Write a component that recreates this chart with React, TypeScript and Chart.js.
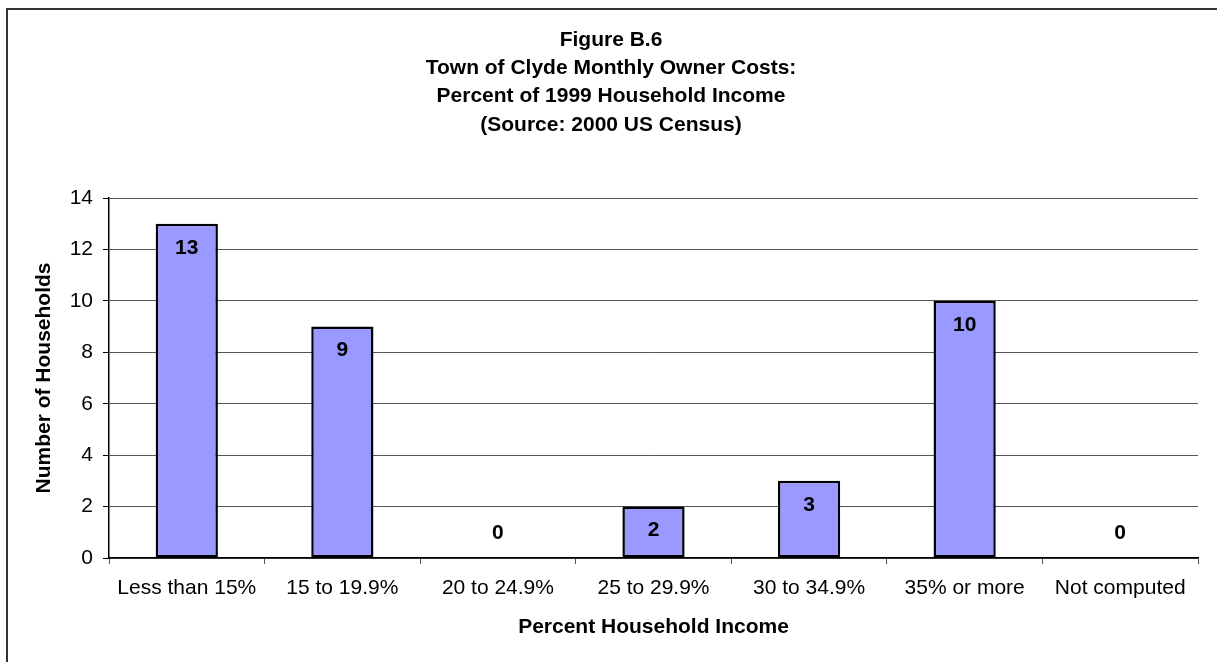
import React, { useEffect, useRef } from "react";
import { Chart, registerables } from "chart.js";

Chart.register(...registerables);

const titleLines = [
  "Figure B.6",
  "Town of Clyde Monthly Owner Costs:",
  "Percent of 1999 Household Income",
  "(Source: 2000 US Census)",
];
const categories = [
  "Less than 15%",
  "15 to 19.9%",
  "20 to 24.9%",
  "25 to 29.9%",
  "30 to 34.9%",
  "35% or more",
  "Not computed",
];
const households = [13, 9, 0, 2, 3, 10, 0];
const yTitle = "Number of Households";
const xTitle = "Percent Household Income";
const yMin = 0;
const yMax = 14;
const yStep = 2;

const FONT = "'Liberation Sans', Arial, sans-serif";

const titlePlugin = {
  id: "multiTitle",
  afterDraw(chart: any) {
    const { ctx } = chart;
    const cx = chart.width / 2 + 2.5;
    ctx.save();
    ctx.font = `bold 21px ${FONT}`;
    ctx.fillStyle = "#000";
    ctx.textAlign = "center";
    ctx.textBaseline = "middle";
    const startY = 40;
    const spacing = 28.3;
    titleLines.forEach((line, i) => {
      ctx.fillText(line, cx, startY + i * spacing);
    });
    ctx.restore();
  },
};

const barLabelPlugin = {
  id: "barLabels",
  afterDatasetsDraw(chart: any) {
    const { ctx } = chart;
    const meta = chart.getDatasetMeta(0);
    const data = chart.data.datasets[0].data as number[];
    ctx.save();
    ctx.font = `bold 21px ${FONT}`;
    ctx.fillStyle = "#000";
    ctx.textAlign = "center";
    ctx.textBaseline = "middle";
    meta.data.forEach((el: any, i: number) => {
      const v = data[i];
      const y = v > 0 ? el.y + 24 : el.y - 25;
      ctx.fillText(String(v), el.x, y);
    });
    ctx.restore();
  },
};

export default function App() {
  const ref = useRef<HTMLCanvasElement>(null);
  useEffect(() => {
    if (!ref.current) return;
    const chart = new Chart(ref.current, {
      type: "bar",
      data: {
        labels: categories,
        datasets: [
          {
            data: households,
            backgroundColor: "#9999FF",
            borderColor: "#000000",
            borderWidth: 2.5,
            borderSkipped: false,
            categoryPercentage: 1,
            barPercentage: 0.4,
          },
        ],
      },
      options: {
        animation: false,
        responsive: false,
        devicePixelRatio: 1,
        layout: { padding: { left: 0, right: 19, top: 198, bottom: 0 } },
        plugins: {
          legend: { display: false },
          title: { display: false },
          tooltip: { enabled: false },
        },
        scales: {
          x: {
            offset: true,
            grid: {
              offset: true,
              drawOnChartArea: false,
              drawTicks: true,
              tickLength: 6,
              tickColor: "#555",
              lineWidth: 1,
            },
            border: { display: true, color: "#000", width: 1.5 },
            ticks: {
              color: "#000",
              font: { family: FONT, size: 21 },
              padding: 12,
              maxRotation: 0,
              autoSkip: false,
            },
            title: {
              display: true,
              text: xTitle,
              color: "#000",
              font: { family: FONT, size: 21, weight: "bold" },
              padding: { top: 0, bottom: 22 },
            },
            afterFit(scale: any) {
              scale.height = 104;
            },
          },
          y: {
            min: yMin,
            max: yMax,
            grid: {
              color: "#555",
              lineWidth: 1,
              drawTicks: true,
              tickLength: 6,
              tickColor: "#000",
            },
            border: { display: true, color: "#000", width: 1.5 },
            ticks: {
              stepSize: yStep,
              color: "#000",
              font: { family: FONT, size: 21 },
              padding: 10,
            },
            title: {
              display: true,
              text: yTitle,
              color: "#000",
              font: { family: FONT, size: 21, weight: "bold" },
              padding: { top: 32, bottom: 0 },
            },
            afterFit(scale: any) {
              scale.width = 109;
            },
          },
        },
      },
      plugins: [titlePlugin, barLabelPlugin],
    });
    return () => chart.destroy();
  }, []);

  return (
    <div
      style={{
        position: "fixed",
        left: 0,
        top: 0,
        width: 1217,
        height: 662,
        overflow: "hidden",
        background: "#fff",
      }}
    >
      <div
        style={{
          position: "absolute",
          left: 6,
          top: 8,
          width: 1400,
          height: 900,
          border: "2px solid #333",
          boxSizing: "border-box",
        }}
      />
      <canvas
        ref={ref}
        width={1217}
        height={662}
        style={{ position: "absolute", left: 0, top: 0, width: 1217, height: 662 }}
      />
    </div>
  );
}
